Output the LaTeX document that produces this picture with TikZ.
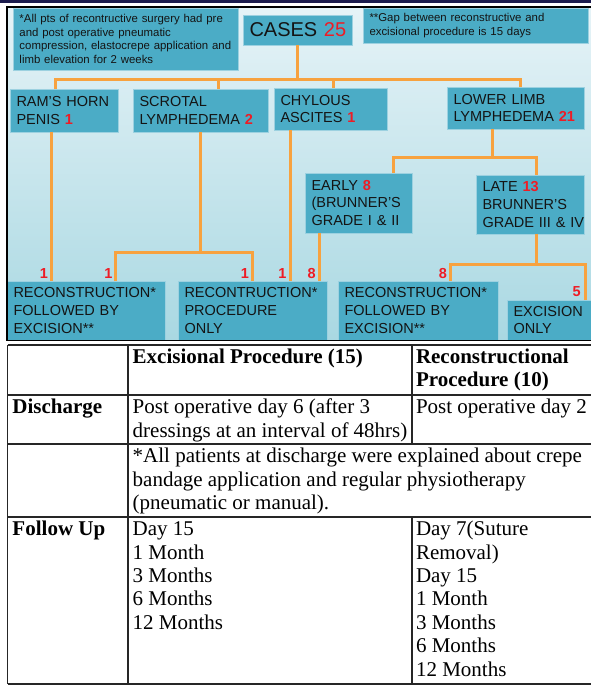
\documentclass[tikz,border=0pt]{standalone}
\usepackage{fontspec}
\setmainfont{Liberation Serif}
\newfontfamily\arialf{Liberation Sans}
\definecolor{boxc}{HTML}{4BACC6}
\definecolor{lnc}{HTML}{F7A23F}
\definecolor{redn}{HTML}{EE1C25}
\definecolor{bgtop}{HTML}{E6F3F7}
\definecolor{bgbot}{HTML}{A9D8E2}
\definecolor{navy}{HTML}{1C1C4E}
\newcommand\rnum[1]{\textcolor{redn}{\textbf{#1}}}
\tikzset{
  box/.style={fill=boxc, draw=boxc!55!white, line width=0.7pt, inner xsep=6.5pt, inner ysep=0pt,
    outer sep=0pt, anchor=north west, align=left, text=black!92,
    font=\arialf\fontsize{14.5}{17.8}\selectfont},
  notebox/.style={box, font=\arialf\fontsize{11.4}{13.4}\selectfont},
  conn/.style={draw=lnc, line width=3pt},
  lab/.style={text=redn, font=\arialf\bfseries\fontsize{14.5}{16}\selectfont, inner sep=0pt},
  tline/.style={draw=black!85, line width=1.1pt},
  tcell/.style={anchor=north west, inner sep=0pt, outer sep=0pt, align=left,
    font=\fontsize{21}{23.4}\selectfont},
}
\newcommand\fl{\rule{0pt}{15pt}}
\begin{document}
\begin{tikzpicture}[x=1pt,y=-1pt]
\useasboundingbox (0,0) rectangle (591,686);
% frame
\fill[navy] (0,0) rectangle (591,2.7);
\fill[top color=bgtop,bottom color=bgbot] (7,7) rectangle (591,340);

% boxes
\node[notebox, minimum width=225pt, minimum height=62pt, text width=212pt] (note1) at (13,8)
  {*All pts of recontructive surgery had pre\\and post operative pneumatic\\compression, elastocrepe application and\\limb elevation for 2 weeks};
\node[box, align=center, minimum width=109pt, minimum height=30pt, text width=96pt,
  font=\arialf\fontsize{20}{22}\selectfont] (cases) at (243,15)
  {CASES~\textcolor{redn}{25}};
\node[notebox, minimum width=225pt, minimum height=35pt, text width=212pt] (note2) at (363,8)
  {**Gap between reconstructive and\\excisional procedure is 15 days};

\node[box, minimum width=108pt, minimum height=43pt, text width=95pt] (ram) at (10,89)
  {RAM’S~HORN\\PENIS~\rnum{1}};
\node[box, minimum width=135pt, minimum height=43pt, text width=122pt] (scrotal) at (133,89)
  {SCROTAL\\LYMPHEDEMA~\rnum{2}};
\node[box, minimum width=113pt, minimum height=42pt, text width=100pt] (chylous) at (274,88)
  {CHYLOUS\\ASCITES~\rnum{1}};
\node[box, minimum width=137pt, minimum height=42pt, text width=124pt] (lower) at (447,87)
  {LOWER~LIMB\\LYMPHEDEMA~\rnum{21}};
\node[box, minimum width=107pt, minimum height=60pt, text width=94pt] (early) at (305,173)
  {EARLY~\rnum{8}\\(BRUNNER’S\\GRADE~I~\&~II};
\node[box, minimum width=108pt, minimum height=59pt, text width=95pt] (late) at (476,175)
  {LATE~\rnum{13}\\BRUNNER’S\\GRADE~III~\&~IV};

\node[box, minimum width=158pt, minimum height=59pt, text width=145pt] (rf1) at (7,281)
  {RECONSTRUCTION*\\FOLLOWED~BY\\EXCISION**};
\node[box, minimum width=149pt, minimum height=59pt, text width=136pt] (ro) at (178,281)
  {RECONTRUCTION*\\PROCEDURE\\ONLY};
\node[box, minimum width=160pt, minimum height=59pt, text width=147pt] (rf2) at (338,281)
  {RECONSTRUCTION*\\FOLLOWED~BY\\EXCISION**};
\node[box, minimum width=84pt, minimum height=40pt, text width=71pt] (ex) at (507,300)
  {EXCISION\\ONLY};

% connectors
\draw[conn] (cases.south) -- ++(0,34) coordinate (bus);
\draw[conn] ([xshift=-9pt]ram.north) |- (bus);
\draw[conn] (bus) -| ([xshift=4.5pt]lower.north);
\draw[conn] ([xshift=17.5pt]scrotal.north) -- ++(0,-10);
\draw[conn] ([xshift=2.5pt]chylous.north) -- ++(0,-9);

\draw[conn] ([xshift=-13pt]ram.south) -- ([xshift=-35pt]rf1.north);
\draw[conn] (scrotal.south) -- ++(0,120) coordinate (sj);
\draw[conn] ([xshift=29pt]rf1.north) |- (sj) -| (ro.north);
\draw[conn] ([xshift=-40.5pt]chylous.south) -- ([xshift=37.5pt]ro.north);

\draw[conn] ([xshift=-23.5pt]lower.south) -- ++(0,28) coordinate (lj);
\draw[conn] ([xshift=34.5pt]early.north) |- (lj) -| ([xshift=6pt]late.north);
\draw[conn] ([xshift=-39.5pt]early.south) -- ([xshift=66.5pt]ro.north);
\draw[conn] ([xshift=6pt]late.south) -- ++(0,30) coordinate (tj);
\draw[conn] ([xshift=32pt]rf2.north) |- (tj) -| ([xshift=36pt]ex.north);

% count labels
\node[lab] (c1) at (43.8,273.5) {1};
\node[lab] (c2) at (108.5,273.5) {1};
\node[lab] (c3) at (245,273.5) {1};
\node[lab] (c4) at (282.5,273.5) {1};
\node[lab] (c5) at (311.7,273.5) {8};
\node[lab] (c6) at (443,273.5) {8};
\node[lab] (c7) at (576.7,291.5) {5};

% panel border
\draw[black, line width=1.4pt] (591,7) -- (7,7) -- (7,340.2) -- (591,340.2);

% table grid
\draw[tline] (7.5,345) -- (591,345);
\draw[tline] (7.5,395) -- (591,395);
\draw[tline] (7.5,444) -- (591,444);
\draw[tline] (7.5,517) -- (591,517);
\draw[tline] (7.5,684) -- (591,684);
\draw[tline] (7.5,345) -- (7.5,684);
\draw[tline] (128,345) -- (128,684);
\draw[tline] (412,345) -- (412,444);
\draw[tline] (412,517) -- (412,684);

% table text
\node[tcell, font=\bfseries\fontsize{21}{23.4}\selectfont] (th2) at (132.7,348.5) {\fl Excisional Procedure (15)};
\node[tcell, font=\bfseries\fontsize{21}{23.4}\selectfont] (th3) at (416,348.5) {\fl Reconstructional\\Procedure (10)};
\node[tcell, font=\bfseries\fontsize{21}{23.4}\selectfont] (dis) at (12.5,398.7) {\fl Discharge};
\node[tcell] (dis2) at (132.7,398.7) {\fl Post operative day 6 (after 3\\dressings at an interval of 48hrs)};
\node[tcell] (dis3) at (416,398.7) {\fl Post operative day 2};
\node[tcell] (note) at (132.7,447.7) {\fl *All patients at discharge were explained about crepe\\bandage application and regular physiotherapy\\(pneumatic or manual).};
\node[tcell, font=\bfseries\fontsize{21}{23.4}\selectfont] (fu) at (12.5,520.7) {\fl Follow Up};
\node[tcell] (fu2) at (132.7,520.7) {\fl Day 15\\1 Month\\3 Months\\6 Months\\12 Months};
\node[tcell] (fu3) at (416,520.7) {\fl Day 7(Suture\\Removal)\\Day 15\\1 Month\\3 Months\\6 Months\\12 Months};
\end{tikzpicture}
\end{document}
